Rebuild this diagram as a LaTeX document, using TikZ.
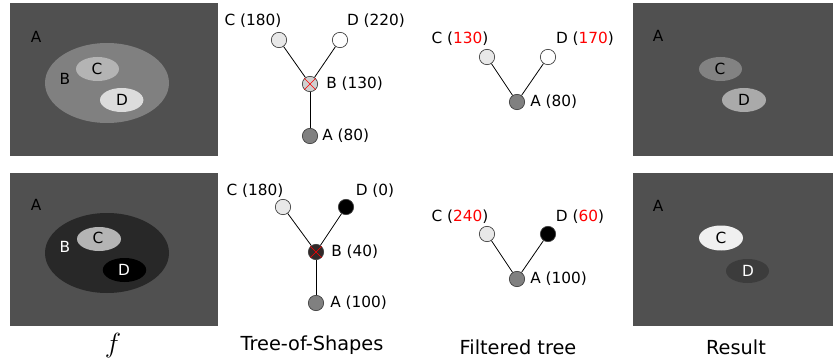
\documentclass[tikz,border=0pt]{standalone}
\usepackage{fontspec}
\setmainfont{DejaVu Sans}
\begin{document}
\begin{tikzpicture}[x=0.75pt,y=-0.75pt,
  lab/.style={font=\fontsize{11.5}{13}\selectfont, inner sep=0pt},
  ttl/.style={font=\fontsize{14.5}{17}\selectfont, inner sep=0pt},
  tn/.style={circle, draw=black!75, line width=0.5pt, minimum size=11.5pt, inner sep=0pt},
  edge/.style={draw=black, line width=0.6pt},
  cross/.style={draw=red, line width=0.5pt},
  panel/.style={fill=bgA, draw=none}]
\definecolor{bgA}{gray}{0.314}
\definecolor{redv}{RGB}{255,0,0}
\useasboundingbox (0,0) rectangle (833,360);
\fill[white] (0,0) rectangle (833,360);

% ---------- top-left image ----------
\fill[panel] (10,3) rectangle (218,156);
\fill[fill={rgb,255:red,128;green,128;blue,128}] (107,83) ellipse [x radius=62, y radius=40];
\fill[fill={rgb,255:red,180;green,180;blue,180}] (97.5,69) ellipse [x radius=21.5, y radius=12];
\fill[fill={rgb,255:red,220;green,220;blue,220}] (121.7,100) ellipse [x radius=21.7, y radius=12];
\node[lab] (ta) at (36,37) {A};
\node[lab] (tb) at (65,79) {B};
\node[lab] (tc) at (97,69) {C};
\node[lab] (td) at (122,100) {D};

% ---------- bottom-left image ----------
\fill[panel] (10,173) rectangle (218,326);
\fill[fill={rgb,255:red,40;green,40;blue,40}] (107,253) ellipse [x radius=62, y radius=40];
\fill[fill={rgb,255:red,180;green,180;blue,180}] (99,239) ellipse [x radius=22, y radius=12];
\fill[black] (124.5,270) ellipse [x radius=21.7, y radius=12];
\node[lab] (ba) at (36,205) {A};
\node[lab, text=white] (bb) at (65,247) {B};
\node[lab] (bc) at (98,238) {C};
\node[lab, text=white] (bd) at (124,270) {D};
\node[font=\fontsize{20}{22}\selectfont, inner sep=0pt] (flab) at (113,346) {$f$};

% ---------- top tree ----------
\node[tn, fill={rgb,255:red,232;green,232;blue,232}] (t1c) at (279,40) {};
\node[tn, fill=white] (t1d) at (340,40) {};
\node[tn, fill={rgb,255:red,208;green,208;blue,208}] (t1b) at (310,84) {};
\node[tn, fill={rgb,255:red,128;green,128;blue,128}] (t1a) at (310,136) {};
\draw[edge] (t1c) -- (t1b);
\draw[edge] (t1d) -- (t1b);
\draw[edge] (t1b) -- (t1a);
\draw[cross] (t1b.north west) -- (t1b.south east);
\draw[cross] (t1b.north east) -- (t1b.south west);
\node[lab] (t1cl) at (253,21) {C (180)};
\node[lab] (t1dl) at (376,21) {D (220)};
\node[lab, anchor=west] (t1bl) at (326,84) {B (130)};
\node[lab, anchor=west] (t1al) at (322,136) {A (80)};

% ---------- top filtered ----------
\node[tn, fill={rgb,255:red,232;green,232;blue,232}] (f1c) at (487,57) {};
\node[tn, fill=white] (f1d) at (548,57) {};
\node[tn, fill={rgb,255:red,128;green,128;blue,128}] (f1a) at (517,102) {};
\draw[edge] (f1c) -- (f1a);
\draw[edge] (f1d) -- (f1a);
\node[lab] (f1cl) at (460,39) {C (\textcolor{redv}{130})};
\node[lab] (f1dl) at (585,39) {D (\textcolor{redv}{170})};
\node[lab, anchor=west] (f1al) at (530,102) {A (80)};

% ---------- top result ----------
\fill[panel] (633,3) rectangle (833,156);
\fill[fill={rgb,255:red,130;green,130;blue,130}] (720.5,69) ellipse [x radius=21.5, y radius=12];
\fill[fill={rgb,255:red,170;green,170;blue,170}] (744,100) ellipse [x radius=22, y radius=12];
\node[lab] (ra) at (658,36) {A};
\node[lab] (rc) at (720,69) {C};
\node[lab] (rd) at (744,100) {D};

% ---------- bottom tree ----------
\node[tn, fill={rgb,255:red,232;green,232;blue,232}] (t2c) at (283,207) {};
\node[tn, fill=black] (t2d) at (346,207) {};
\node[tn, fill={rgb,255:red,50;green,40;blue,40}] (t2b) at (316,252) {};
\node[tn, fill={rgb,255:red,128;green,128;blue,128}] (t2a) at (316,303) {};
\draw[edge] (t2c) -- (t2b);
\draw[edge] (t2d) -- (t2b);
\draw[edge] (t2b) -- (t2a);
\draw[cross] (t2b.north west) -- (t2b.south east);
\draw[cross] (t2b.north east) -- (t2b.south west);
\node[lab] (t2cl) at (255,191) {C (180)};
\node[lab] (t2dl) at (375,191) {D (0)};
\node[lab, anchor=west] (t2bl) at (331,252) {B (40)};
\node[lab, anchor=west] (t2al) at (330,303) {A (100)};
\node[ttl] (ttos) at (312,345) {Tree-of-Shapes};

% ---------- bottom filtered ----------
\node[tn, fill={rgb,255:red,232;green,232;blue,232}] (f2c) at (487,234) {};
\node[tn, fill=black] (f2d) at (548,234) {};
\node[tn, fill={rgb,255:red,128;green,128;blue,128}] (f2a) at (517,279) {};
\draw[edge] (f2c) -- (f2a);
\draw[edge] (f2d) -- (f2a);
\node[lab] (f2cl) at (460,217) {C (\textcolor{redv}{240})};
\node[lab] (f2dl) at (580,217) {D (\textcolor{redv}{60})};
\node[lab, anchor=west] (f2al) at (530,279) {A (100)};
\node[ttl] (tfil) at (518,347) {Filtered tree};

% ---------- bottom result ----------
\fill[panel] (633,173) rectangle (833,326);
\fill[fill={rgb,255:red,240;green,240;blue,240}] (721,238) ellipse [x radius=22, y radius=12.5];
\fill[fill={rgb,255:red,60;green,60;blue,60}] (747.5,271) ellipse [x radius=21.5, y radius=12];
\node[lab] (r2a) at (658,206) {A};
\node[lab] (r2c) at (721,238) {C};
\node[lab, text=white] (r2d) at (748,271) {D};
\node[ttl] (tres) at (736,347) {Result};
\end{tikzpicture}
\end{document}
